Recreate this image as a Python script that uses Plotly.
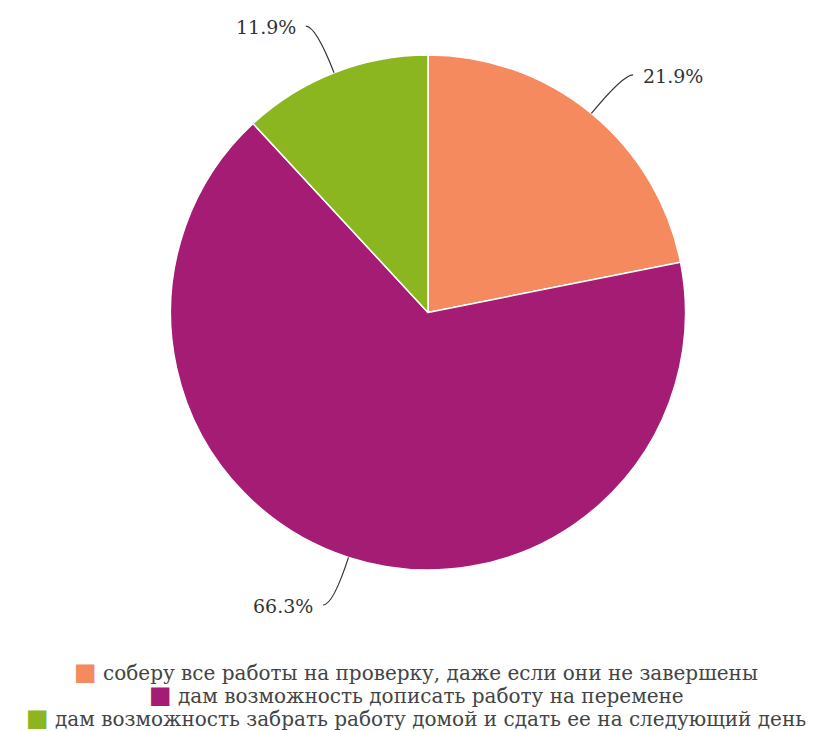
import math
import plotly.graph_objects as go

labels = ['соберу все работы на проверку, даже если они не завершены',
          'дам возможность дописать работу на перемене',
          'дам возможность забрать работу домой и сдать ее на следующий день']
values = [21.9, 66.3, 11.9]
colors = ['#F48A5E', '#A51C74', '#8CB620']

# page body has an 8px margin, so the figure is a bit smaller than the window
W, H = 816, 723
ml, mr, mt, mb = 24, 0, 47, 161
pw, ph = W - ml - mr, H - mt - mb
cx, cy = ml + pw / 2, mt + ph / 2
R = min(pw, ph) / 2


def px(x):
    return (x - ml) / pw


def py(y):
    return (H - mb - y) / ph


fig = go.Figure(go.Pie(
    labels=labels, values=values, sort=False, direction='clockwise',
    marker=dict(colors=colors, line=dict(color='white', width=1.5)),
    textinfo='none', hoverinfo='label+percent', showlegend=False,
))

# outside labels with curved leader lines
total = sum(values)
start = 0
shapes, annos = [], []
for v in values:
    mid = math.radians((start + v / 2) / total * 360)
    start += v
    s, c = math.sin(mid), math.cos(mid)
    x0, y0 = cx + R * s, cy - R * c
    x1, y1 = cx + (R + 50) * s, cy - (R + 50) * c
    side = 1 if s >= 0 else -1
    x2, y2 = x1 + side * 10, y1
    shapes.append(dict(type='path', xref='paper', yref='paper',
                       path=f'M {px(x0)},{py(y0)} Q {px(x1)},{py(y1)} {px(x2)},{py(y2)}',
                       line=dict(color='#333', width=1.2)))
    annos.append(dict(x=px(x2 + side * 8), y=py(y2 + 1), xref='paper', yref='paper',
                      text=f'{v}%', showarrow=False,
                      xanchor='left' if side > 0 else 'right', yanchor='middle',
                      font=dict(family='DejaVu Serif', size=19, color='#333')))

# centered legend lines
for i, (lab, col) in enumerate(zip(labels, colors)):
    annos.append(dict(x=px(W / 2), y=py(664 + i * 23), xref='paper', yref='paper',
                      text=f'<span style="color:{col};font-size:24px">■</span> {lab}', showarrow=False,
                      xanchor='center', yanchor='middle',
                      font=dict(family='DejaVu Serif', size=20, color='#444')))

fig.update_layout(
    width=W, height=H, margin=dict(l=ml, r=mr, t=mt, b=mb),
    paper_bgcolor='white', plot_bgcolor='white',
    shapes=shapes, annotations=annos,
)
fig.write_html('out.html')
